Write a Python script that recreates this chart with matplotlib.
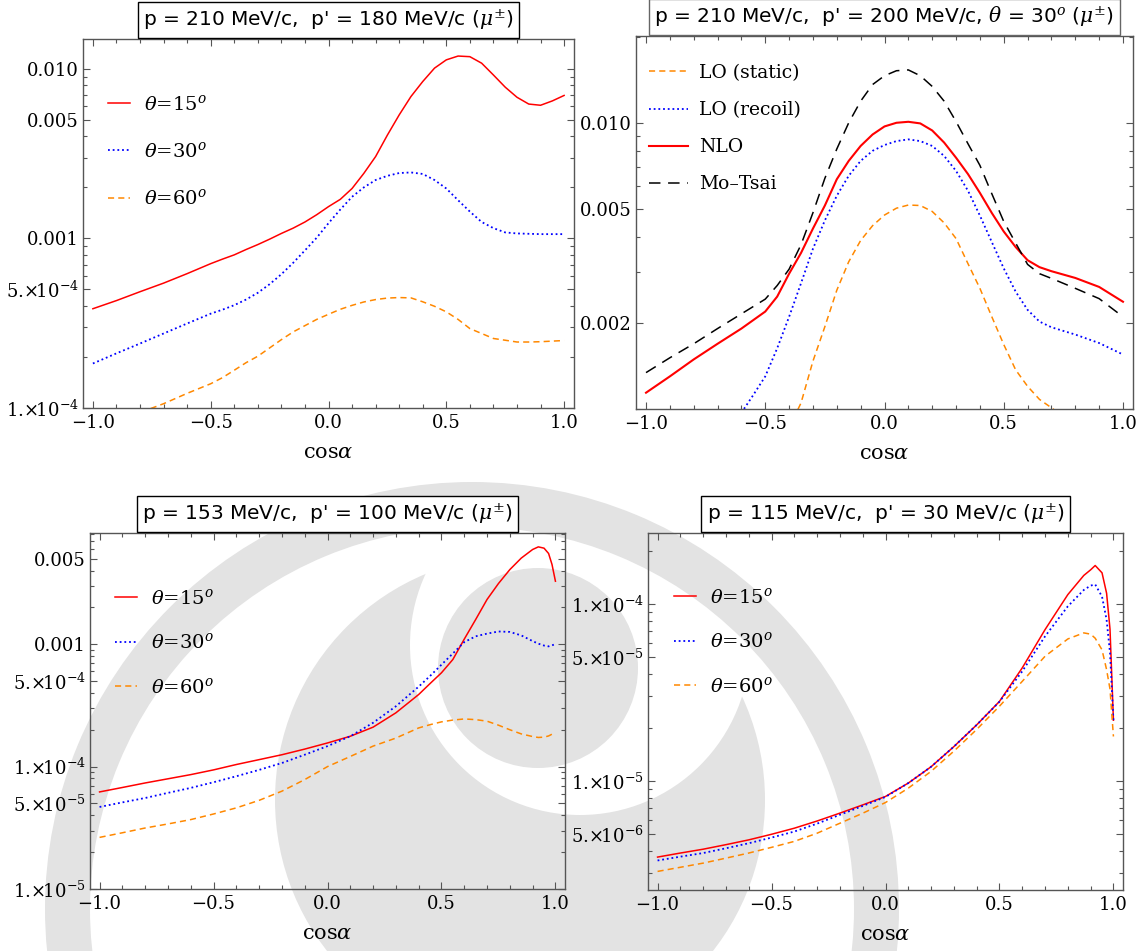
import numpy as np
import matplotlib
matplotlib.use('Agg')
import matplotlib.pyplot as plt
import matplotlib.patches as mpatches
import matplotlib.transforms as mtransforms
from matplotlib.ticker import FixedLocator, FixedFormatter, LogLocator, NullFormatter

plt.rcParams['mathtext.fontset'] = 'dejavuserif'

# ---------------- data ----------------
# Panel A: p = 210, p' = 180
xA = [-1.0, -0.9, -0.8, -0.7, -0.6, -0.5, -0.45, -0.4, -0.35, -0.3, -0.25, -0.2, -0.15, -0.1,
      -0.05, 0.0, 0.05, 0.1, 0.15, 0.2, 0.25, 0.3, 0.35, 0.4, 0.45, 0.5, 0.55, 0.6, 0.65, 0.7,
      0.75, 0.8, 0.85, 0.9, 0.95, 1.0]
A_th15 = [3.85e-4, 4.3e-4, 4.85e-4, 5.45e-4, 6.2e-4, 7.1e-4, 7.55e-4, 8.0e-4, 8.6e-4, 9.2e-4,
          9.9e-4, 1.07e-3, 1.15e-3, 1.25e-3, 1.38e-3, 1.54e-3, 1.70e-3, 1.97e-3, 2.42e-3,
          3.04e-3, 4.07e-3, 5.35e-3, 6.87e-3, 8.42e-3, 1.01e-2, 1.13e-2, 1.19e-2, 1.18e-2,
          1.08e-2, 9.2e-3, 7.8e-3, 6.8e-3, 6.2e-3, 6.1e-3, 6.47e-3, 6.97e-3]
A_th30 = [1.83e-4, 2.1e-4, 2.4e-4, 2.75e-4, 3.15e-4, 3.6e-4, 3.8e-4, 4.04e-4, 4.36e-4, 4.78e-4,
          5.37e-4, 6.15e-4, 7.18e-4, 8.5e-4, 1.01e-3, 1.23e-3, 1.48e-3, 1.76e-3, 2.0e-3, 2.21e-3,
          2.34e-3, 2.43e-3, 2.45e-3, 2.40e-3, 2.21e-3, 1.97e-3, 1.68e-3, 1.44e-3, 1.25e-3,
          1.15e-3, 1.085e-3, 1.07e-3, 1.065e-3, 1.06e-3, 1.06e-3, 1.06e-3]
A_th60 = [7.5e-5, 8.3e-5, 9.4e-5, 1.06e-4, 1.22e-4, 1.39e-4, 1.51e-4, 1.67e-4, 1.85e-4, 2.02e-4,
          2.26e-4, 2.53e-4, 2.81e-4, 3.06e-4, 3.33e-4, 3.57e-4, 3.82e-4, 4.03e-4, 4.22e-4,
          4.36e-4, 4.45e-4, 4.48e-4, 4.46e-4, 4.23e-4, 3.98e-4, 3.69e-4, 3.33e-4, 2.94e-4,
          2.75e-4, 2.57e-4, 2.51e-4, 2.45e-4, 2.45e-4, 2.46e-4, 2.48e-4, 2.5e-4]

# Panel B: p = 210, p' = 200, theta = 30
xB = [-1.0, -0.9, -0.8, -0.7, -0.6, -0.5, -0.45, -0.4, -0.35, -0.3, -0.25, -0.2, -0.15, -0.1,
      -0.05, 0.0, 0.05, 0.1, 0.15, 0.2, 0.25, 0.3, 0.35, 0.4, 0.45, 0.5, 0.55, 0.6, 0.65, 0.7,
      0.8, 0.9, 1.0]
B_motsai = [1.34e-3, 1.51e-3, 1.69e-3, 1.91e-3, 2.15e-3, 2.42e-3, 2.70e-3, 3.08e-3, 3.75e-3,
            4.85e-3, 6.4e-3, 8.1e-3, 1.0e-2, 1.19e-2, 1.36e-2, 1.46e-2, 1.52e-2, 1.53e-2,
            1.46e-2, 1.34e-2, 1.19e-2, 1.01e-2, 8.45e-3, 7.1e-3, 5.65e-3, 4.52e-3, 3.8e-3,
            3.2e-3, 2.97e-3, 2.86e-3, 2.64e-3, 2.43e-3, 2.10e-3]
B_nlo = [1.14e-3, 1.30e-3, 1.49e-3, 1.69e-3, 1.91e-3, 2.19e-3, 2.47e-3, 2.97e-3, 3.51e-3,
         4.27e-3, 5.14e-3, 6.35e-3, 7.36e-3, 8.30e-3, 9.1e-3, 9.71e-3, 1.0e-2, 1.008e-2,
         9.95e-3, 9.4e-3, 8.53e-3, 7.55e-3, 6.62e-3, 5.69e-3, 4.84e-3, 4.17e-3, 3.68e-3,
         3.31e-3, 3.13e-3, 3.03e-3, 2.87e-3, 2.67e-3, 2.37e-3]
xB_recoil = [-0.6, -0.55, -0.5, -0.45, -0.4, -0.35, -0.3, -0.25, -0.2, -0.15, -0.1, -0.05, 0.0,
             0.05, 0.1, 0.15, 0.2, 0.25, 0.3, 0.35, 0.4, 0.45, 0.5, 0.55, 0.6, 0.65, 0.7, 0.8,
             0.9, 1.0]
B_recoil = [9.7e-4, 1.12e-3, 1.30e-3, 1.63e-3, 2.10e-3, 2.75e-3, 3.63e-3, 4.56e-3, 5.56e-3,
            6.53e-3, 7.36e-3, 7.98e-3, 8.36e-3, 8.63e-3, 8.75e-3, 8.63e-3, 8.3e-3, 7.66e-3,
            6.79e-3, 5.79e-3, 4.74e-3, 3.83e-3, 3.10e-3, 2.57e-3, 2.22e-3, 2.02e-3, 1.93e-3,
            1.82e-3, 1.70e-3, 1.55e-3]
xB_static = [-0.4, -0.35, -0.3, -0.25, -0.2, -0.15, -0.1, -0.05, 0.0, 0.05, 0.1, 0.15, 0.2,
             0.25, 0.3, 0.35, 0.4, 0.45, 0.5, 0.55, 0.6, 0.65, 0.7, 0.75]
B_static = [8.6e-4, 1.05e-3, 1.47e-3, 1.94e-3, 2.60e-3, 3.27e-3, 3.88e-3, 4.37e-3, 4.76e-3,
            5.03e-3, 5.16e-3, 5.14e-3, 4.90e-3, 4.47e-3, 3.94e-3, 3.22e-3, 2.64e-3, 2.10e-3,
            1.68e-3, 1.37e-3, 1.20e-3, 1.08e-3, 1.01e-3, 9.4e-4]

# Panel C: p = 153, p' = 100
xC = [-1.0, -0.9, -0.8, -0.7, -0.6, -0.5, -0.4, -0.3, -0.2, -0.1, 0.0, 0.1, 0.2, 0.3, 0.4,
      0.45, 0.5, 0.55, 0.6, 0.65, 0.7, 0.75, 0.8, 0.85, 0.9, 0.925, 0.95, 0.97, 0.985, 1.0]
C_th15 = [6.21e-5, 6.75e-5, 7.35e-5, 7.95e-5, 8.6e-5, 9.4e-5, 1.04e-4, 1.14e-4, 1.25e-4,
          1.39e-4, 1.56e-4, 1.77e-4, 2.1e-4, 2.75e-4, 3.88e-4, 4.77e-4, 5.84e-4, 7.5e-4,
          1.1e-3, 1.59e-3, 2.32e-3, 3.13e-3, 4.07e-3, 5.05e-3, 5.94e-3, 6.24e-3, 6.09e-3,
          5.51e-3, 4.48e-3, 3.27e-3]
C_th30 = [4.68e-5, 5.1e-5, 5.54e-5, 6.1e-5, 6.7e-5, 7.45e-5, 8.34e-5, 9.4e-5, 1.07e-4, 1.25e-4,
          1.47e-4, 1.77e-4, 2.28e-4, 3.11e-4, 4.5e-4, 5.5e-4, 6.8e-4, 8.4e-4, 1.04e-3, 1.16e-3,
          1.22e-3, 1.27e-3, 1.26e-3, 1.18e-3, 1.06e-3, 1.01e-3, 9.75e-4, 9.6e-4, 9.8e-4,
          1.0e-3]
C_th60 = [2.64e-5, 2.88e-5, 3.15e-5, 3.4e-5, 3.69e-5, 4.1e-5, 4.6e-5, 5.3e-5, 6.3e-5, 7.83e-5,
          1.0e-4, 1.21e-4, 1.47e-4, 1.71e-4, 2.07e-4, 2.2e-4, 2.32e-4, 2.4e-4, 2.45e-4, 2.42e-4,
          2.35e-4, 2.18e-4, 2.0e-4, 1.85e-4, 1.76e-4, 1.73e-4, 1.74e-4, 1.78e-4, 1.84e-4,
          1.88e-4]

# Panel D: p = 115, p' = 30
xD = [-1.0, -0.9, -0.8, -0.7, -0.6, -0.5, -0.4, -0.3, -0.2, -0.1, 0.0, 0.1, 0.2, 0.3, 0.4,
      0.5, 0.6, 0.7, 0.8, 0.87, 0.9, 0.92, 0.95, 0.97, 0.985, 1.0]
D_th15 = [3.70e-6, 3.9e-6, 4.10e-6, 4.35e-6, 4.63e-6, 4.98e-6, 5.39e-6, 5.92e-6, 6.56e-6,
          7.3e-6, 8.15e-6, 9.7e-6, 1.20e-5, 1.56e-5, 2.07e-5, 2.81e-5, 4.35e-5, 7.16e-5,
          1.13e-4, 1.45e-4, 1.56e-4, 1.65e-4, 1.50e-4, 1.15e-4, 7.2e-5, 2.2e-5]
D_th30 = [3.54e-6, 3.72e-6, 3.9e-6, 4.15e-6, 4.43e-6, 4.77e-6, 5.16e-6, 5.72e-6, 6.42e-6,
          7.2e-6, 8.1e-6, 9.7e-6, 1.2e-5, 1.56e-5, 2.07e-5, 2.8e-5, 4.16e-5, 6.56e-5, 9.7e-5,
          1.2e-4, 1.27e-4, 1.29e-4, 1.10e-4, 8.15e-5, 5.3e-5, 2.2e-5]
D_th60 = [3.07e-6, 3.24e-6, 3.42e-6, 3.65e-6, 3.9e-6, 4.2e-6, 4.54e-6, 5.05e-6, 5.75e-6,
          6.55e-6, 7.53e-6, 9.08e-6, 1.13e-5, 1.47e-5, 1.95e-5, 2.64e-5, 3.65e-5, 5.06e-5,
          6.34e-5, 6.86e-5, 6.75e-5, 6.4e-5, 5.5e-5, 4.25e-5, 3.3e-5, 1.78e-5]

titles = [r"p = 210 MeV/c,  p' = 180 MeV/c ($\mu^{\pm}$)",
          r"p = 210 MeV/c,  p' = 200 MeV/c, $\theta$ = 30$^{o}$ ($\mu^{\pm}$)",
          r"p = 153 MeV/c,  p' = 100 MeV/c ($\mu^{\pm}$)",
          r"p = 115 MeV/c,  p' = 30 MeV/c ($\mu^{\pm}$)"]
theta_labels = [r"$\theta$=15$^{o}$", r"$\theta$=30$^{o}$", r"$\theta$=60$^{o}$"]
order_labels = ["LO (static)", "LO (recoil)", "NLO", "Mo\u2013Tsai"]
xlabel = r"cos$\alpha$"

x_ticks = [-1.0, -0.5, 0.0, 0.5, 1.0]
x_ticklabels = ["\u22121.0", "\u22120.5", "0.0", "0.5", "1.0"]
yA_ticks = [1e-4, 5e-4, 1e-3, 5e-3, 1e-2]
yA_labels = [r"$1.\!{\times}\!10^{-4}$", r"$5.\!{\times}\!10^{-4}$", "0.001", "0.005", "0.010"]
yB_ticks = [2e-3, 5e-3, 1e-2]
yB_labels = ["0.002", "0.005", "0.010"]
yC_ticks = [1e-5, 5e-5, 1e-4, 5e-4, 1e-3, 5e-3]
yC_labels = [r"$1.\!{\times}\!10^{-5}$", r"$5.\!{\times}\!10^{-5}$", r"$1.\!{\times}\!10^{-4}$",
             r"$5.\!{\times}\!10^{-4}$", "0.001", "0.005"]
yD_ticks = [5e-6, 1e-5, 5e-5, 1e-4]
yD_labels = [r"$5.\!{\times}\!10^{-6}$", r"$1.\!{\times}\!10^{-5}$", r"$5.\!{\times}\!10^{-5}$",
             r"$1.\!{\times}\!10^{-4}$"]

# ---------------- styles ----------------
RED, BLUE, ORANGE, BLACK = '#ff0000', '#0000ff', '#ff8800', '#000000'
st15 = dict(color=RED, lw=1.1, ls='-')
st30 = dict(color=BLUE, lw=1.3, ls=(0, (1, 1.6)))
st60 = dict(color=ORANGE, lw=1.1, ls=(0, (4, 2.7)))
stMT = dict(color=BLACK, lw=1.1, ls=(0, (7.5, 5)))

W, H = 1148, 951
fig = plt.figure(figsize=(W / 100, H / 100), dpi=100)
fig.patch.set_facecolor('white')
px = mtransforms.Affine2D().scale(1 / W, -1 / H).translate(0, 1) + fig.transFigure

# ---------------- watermark (light grey emblem) ----------------
WM = '#e3e3e3'
fig.add_artist(mpatches.Circle((520, 800), 245, transform=px, fc=WM, ec='none', zorder=-5))
fig.add_artist(mpatches.Circle((580, 645), 170, transform=px, fc='white', ec='none', zorder=-4))
fig.add_artist(mpatches.Circle((538, 668), 100, transform=px, fc=WM, ec='none', zorder=-3))
fig.add_artist(mpatches.Annulus((472, 909), 427, 45, transform=px, fc=WM, ec='none', zorder=-2))


def make_axes(l, r, t, b):
    ax = fig.add_axes([l / W, 1 - b / H, (r - l) / W, (b - t) / H])
    ax.set_facecolor('none')
    return ax


def style(ax, yticks, ylabels, ylim, title, title_ec='black'):
    ax.set_yscale('log')
    ax.set_xlim(-1.042, 1.042)
    ax.set_ylim(*ylim)
    ax.xaxis.set_major_locator(FixedLocator(x_ticks))
    ax.xaxis.set_major_formatter(FixedFormatter(x_ticklabels))
    ax.xaxis.set_minor_locator(FixedLocator(np.round(np.arange(-1.0, 1.01, 0.1), 2)))
    ax.yaxis.set_major_locator(FixedLocator(yticks))
    ax.yaxis.set_major_formatter(FixedFormatter(ylabels))
    ax.yaxis.set_minor_locator(LogLocator(base=10, subs=np.arange(1, 10)))
    ax.yaxis.set_minor_formatter(NullFormatter())
    ax.tick_params(which='both', direction='in', top=True, right=True, color='#555555',
                   width=0.8, labelsize=13, pad=4)
    ax.tick_params(axis='y', which='both', pad=3)
    ax.tick_params(which='major', length=5)
    ax.tick_params(which='minor', length=3)
    for lab in ax.get_xticklabels() + ax.get_yticklabels():
        lab.set_family('DejaVu Serif')
    for sp in ax.spines.values():
        sp.set_color('#555555')
        sp.set_linewidth(1.0)
    ax.set_xlabel(xlabel, family='DejaVu Serif', fontsize=15, labelpad=8)
    tr = mtransforms.offset_copy(ax.transAxes, fig=fig, y=7, units='dots')
    ax.text(0.5, 1.0, title, transform=tr, ha='center', va='bottom', fontsize=14.5,
            family='DejaVu Sans',
            bbox=dict(boxstyle='square,pad=0.28', fc='white', ec=title_ec, lw=1.0))


def theta_legend(ax, x0, y0, spacing):
    ax.legend(loc='upper left', bbox_to_anchor=(x0, y0), bbox_transform=px, frameon=False,
              prop=dict(family='DejaVu Serif', size=14), borderpad=0, borderaxespad=0,
              handlelength=1.15, handletextpad=0.7, labelspacing=spacing)


# Panel A
axA = make_axes(83, 574, 39, 408)
axA.plot(xA, A_th15, label=theta_labels[0], **st15)
axA.plot(xA, A_th30, label=theta_labels[1], **st30)
axA.plot(xA, A_th60, label=theta_labels[2], **st60)
style(axA, yA_ticks, yA_labels, (1e-4, 0.0150), titles[0])
theta_legend(axA, 108, 94, 1.4)

# Panel B
axB = make_axes(636, 1133, 36, 409)
lS, = axB.plot(xB_static, B_static, label=order_labels[0], **st60)
lR, = axB.plot(xB_recoil, B_recoil, label=order_labels[1], **st30)
lN, = axB.plot(xB, B_nlo, label=order_labels[2], color=RED, lw=1.5)
lM, = axB.plot(xB, B_motsai, label=order_labels[3], **stMT)
style(axB, yB_ticks, yB_labels, (1.0e-3, 0.0201), titles[1], title_ec='#666666')
axB.legend(handles=[lS, lR, lN, lM], loc='upper left', bbox_to_anchor=(649, 64),
           bbox_transform=px, frameon=False, prop=dict(family='DejaVu Serif', size=13.5),
           borderpad=0, borderaxespad=0, handlelength=2.1, handletextpad=0.55,
           labelspacing=1.02)

# Panel C
axC = make_axes(90, 565, 533, 889)
axC.plot(xC, C_th15, label=theta_labels[0], **st15)
axC.plot(xC, C_th30, label=theta_labels[1], **st30)
axC.plot(xC, C_th60, label=theta_labels[2], **st60)
style(axC, yC_ticks, yC_labels, (1e-5, 8.1e-3), titles[2])
theta_legend(axC, 115, 588, 1.25)

# Panel D
axD = make_axes(648, 1123, 533, 890)
axD.plot(xD, D_th15, label=theta_labels[0], **st15)
axD.plot(xD, D_th30, label=theta_labels[1], **st30)
axD.plot(xD, D_th60, label=theta_labels[2], **st60)
style(axD, yD_ticks, yD_labels, (2.41e-6, 2.52e-4), titles[3])
theta_legend(axD, 674, 587, 1.25)

fig.savefig('out.png', dpi=100)
